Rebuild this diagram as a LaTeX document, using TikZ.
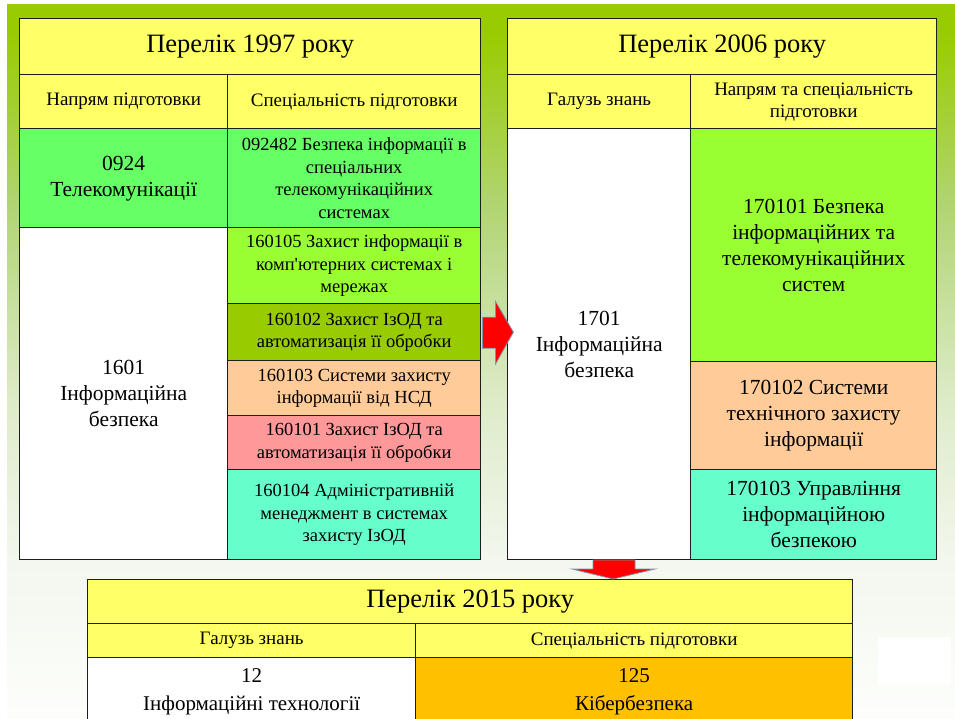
\documentclass[tikz,border=0pt]{standalone}
\usepackage{fontspec}
\setmainfont{Liberation Serif}
\usetikzlibrary{calc}
\definecolor{bgA}{HTML}{99CC00}
\definecolor{bgB}{HTML}{B0D470}
\definecolor{bgC}{HTML}{DDEBC8}
\definecolor{bgD}{HTML}{F3F7EE}
\definecolor{bgE}{HTML}{FDFEFB}
\definecolor{yel}{HTML}{FFFF66}
\definecolor{grnA}{HTML}{66FF66}
\definecolor{grnB}{HTML}{99FF33}
\definecolor{olv}{HTML}{99CC00}
\definecolor{peach}{HTML}{FFCC99}
\definecolor{pink}{HTML}{FF9999}
\definecolor{aqua}{HTML}{66FFCC}
\definecolor{amber}{HTML}{FFC000}
\definecolor{lineC}{HTML}{1E1E1E}
\definecolor{arrEdge}{HTML}{7F94A8}
\pgfdeclareverticalshading{bgshade}{100bp}{color(0bp)=(bgE); color(25bp)=(bgE); color(36.1bp)=(bgD); color(47.3bp)=(bgC); color(61.3bp)=(bgB); color(73bp)=(bgA); color(100bp)=(bgA)}
\tikzset{
  cell/.style={draw=lineC, line width=1.4pt, anchor=north west, inner sep=1pt, align=center, text=black},
  ttl/.style={cell, fill=yel, font=\rmfamily\fontsize{26.5}{30}\selectfont},
  hdr/.style={cell, fill=yel, font=\rmfamily\fontsize{19}{22}\selectfont},
  bigc/.style={cell, font=\rmfamily\fontsize{21.5}{26}\selectfont},
  smlc/.style={cell, font=\rmfamily\fontsize{18.5}{22.5}\selectfont},
  botc/.style={cell, font=\rmfamily\fontsize{21}{28}\selectfont},
  blockarrow/.style={fill=red, draw=arrEdge, line width=0.8pt, line join=miter}
}
\begin{document}
\begin{tikzpicture}[x=1pt,y=-1pt]
\clip (0,0) rectangle (955,719);
\fill[white] (0,0) rectangle (955,719);
\shade[shading=bgshade] (7,5) rectangle (955,719);
\fill[white] (878,637) rectangle (951,685);

% ---------- Table 1997 ----------
\node[ttl, minimum width=461, minimum height=56] (t1t) at (19,18) {\raisebox{-2pt}{Перелік 1997 року}};
\node[hdr, minimum width=208, minimum height=54] (t1h1) at (19,74) {Напрям підготовки};
\node[hdr, minimum width=253, minimum height=54] (t1h2) at (227,74) {Спеціальність підготовки};
\node[bigc, fill=grnA, minimum width=208, minimum height=99] (t1a) at (19,128) {0924\\Телекомунікації};
\node[smlc, fill=grnA, minimum width=253, minimum height=99] (t1b) at (227,128) {092482 Безпека інформації в\\спеціальних\\телекомунікаційних\\системах};
\node[bigc, fill=white, minimum width=208, minimum height=332] (t1c) at (19,227) {1601\\Інформаційна\\безпека};
\node[smlc, fill=grnB, minimum width=253, minimum height=76] (r1) at (227,227) {160105 Захист інформації в\\комп\textquotesingle ютерних системах і\\мережах};
\node[smlc, fill=olv, minimum width=253, minimum height=57] (r2) at (227,303) {160102 Захист ІзОД та\\автоматизація її обробки};
\node[smlc, fill=peach, minimum width=253, minimum height=55] (r3) at (227,360) {160103 Системи захисту\\інформації від НСД};
\node[smlc, fill=pink, minimum width=253, minimum height=54] (r4) at (227,415) {160101 Захист ІзОД та\\автоматизація її обробки};
\node[smlc, fill=aqua, minimum width=253, minimum height=90] (r5) at (227,469) {160104 Адміністративній\\менеджмент в системах\\захисту ІзОД};

% ---------- Table 2006 ----------
\node[ttl, minimum width=429, minimum height=56] (t2t) at (507,18) {\raisebox{-2pt}{Перелік 2006 року}};
\node[hdr, minimum width=183, minimum height=54] (t2h1) at (507,74) {Галузь знань};
\node[hdr, minimum width=246, minimum height=54] (t2h2) at (690,74) {Напрям та спеціальність\\підготовки};
\node[bigc, fill=white, minimum width=183, minimum height=431] (t2a) at (507,128) {1701\\Інформаційна\\безпека};
\node[bigc, fill=grnB, minimum width=246, minimum height=233] (s1) at (690,128) {170101 Безпека\\інформаційних та\\телекомунікаційних\\систем};
\node[bigc, fill=peach, minimum width=246, minimum height=108] (s2) at (690,361) {170102 Системи\\технічного захисту\\інформації};
\node[bigc, fill=aqua, minimum width=246, minimum height=90] (s3) at (690,469) {170103 Управління\\інформаційною\\безпекою};

% ---------- Table 2015 ----------
\node[ttl, minimum width=765, minimum height=44] (t3t) at (87,579) {\raisebox{-3pt}{Перелік 2015 року}};
\node[hdr, minimum width=328, minimum height=34] (t3h1) at (87,623) {Галузь знань};
\node[hdr, minimum width=437, minimum height=34] (t3h2) at (415,623) {Спеціальність підготовки};
\node[botc, fill=white, minimum width=328, minimum height=68] (t3a) at (87,657) {12\\Інформаційні технології};
\node[botc, fill=amber, minimum width=437, minimum height=68] (t3b) at (415,657) {125\\Кібербезпека};

% ---------- Arrows ----------
\coordinate (ra) at (t1t.east |- r2.center);
\draw[blockarrow] ($(ra)+(1,-15)$) -- ++(13,0) -- ++(0,-16) -- ($(ra)+(32,0)$) -- ++(-18,32) -- ++(0,-16) -- ++(-13,0) -- cycle;
\coordinate (da) at (613,559);
\draw[blockarrow] ($(da)+(-20,1)$) -- ++(42,0) -- ++(0,9) -- ++(20,0) -- ($(t3t.north west)+(526,0)$) -- ++(-41,-10) -- ++(21,0) -- cycle;
\end{tikzpicture}
\end{document}
